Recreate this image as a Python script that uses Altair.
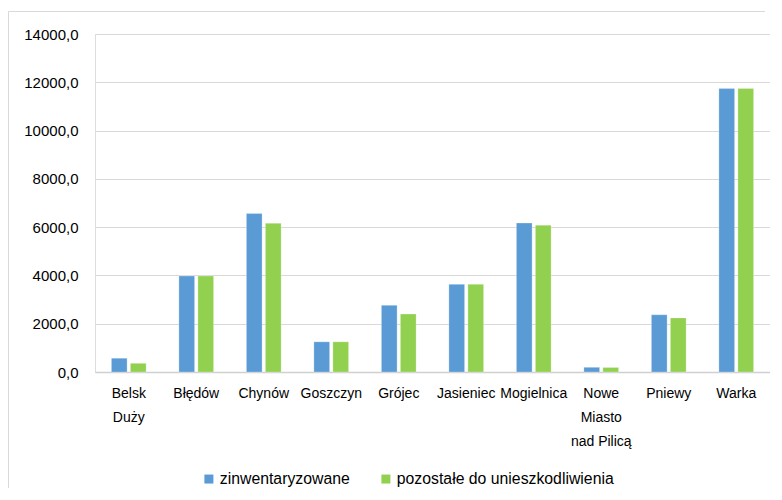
import altair as alt
import pandas as pd

categories = ["Belsk Duży", "Błędów", "Chynów", "Goszczyn", "Grójec", "Jasieniec",
              "Mogielnica", "Nowe Miasto nad Pilicą", "Pniewy", "Warka"]
inventoried = [570, 3975, 6570, 1250, 2760, 3630, 6170, 195, 2370, 11740]
remaining = [360, 3975, 6160, 1250, 2400, 3630, 6080, 190, 2240, 11740]
series = ["zinwentaryzowane", "pozostałe do unieszkodliwienia"]
colors = ["#5b9bd5", "#92d050"]
y_ticks = [0, 2000, 4000, 6000, 8000, 10000, 12000, 14000]

rows = []
for c, a, b in zip(categories, inventoried, remaining):
    rows.append({"gmina": c, "seria": series[0], "wartosc": a})
    rows.append({"gmina": c, "seria": series[1], "wartosc": b})
df = pd.DataFrame(rows)

FONT = "Liberation Sans"

label_expr = ("datum.value == 'Belsk Duży' ? ['Belsk', 'Duży'] : "
              "datum.value == 'Nowe Miasto nad Pilicą' ? ['Nowe', 'Miasto', 'nad Pilicą'] : "
              "datum.label")

bars = alt.Chart(df).mark_bar(stroke="#ffffff", strokeOpacity=0.5, strokeWidth=0.5).encode(
    x=alt.X("gmina:N", sort=categories, title=None,
            scale=alt.Scale(paddingInner=0, paddingOuter=0),
            axis=alt.Axis(labelAngle=0, labelExpr=label_expr, labelLineHeight=24,
                          labelFont=FONT, labelFontSize=14, labelColor="#000000",
                          labelPadding=14, ticks=False, domainColor="#d0d0d0",
                          domainWidth=1.5, labelLimit=200)),
    xOffset=alt.XOffset("seria:N", sort=series,
                        scale=alt.Scale(paddingInner=0.174, paddingOuter=0.863)),
    y=alt.Y("wartosc:Q", title=None,
            scale=alt.Scale(domain=[0, 14000]),
            axis=alt.Axis(values=y_ticks, labelExpr="replace(format(datum.value, '.1f'), '.', ',')",
                          labelFont=FONT, labelFontSize=15, labelColor="#000000",
                          labelPadding=17, ticks=False, domain=False,
                          gridColor="#d9d9d9", gridWidth=1)),
    color=alt.Color("seria:N", sort=series,
                    scale=alt.Scale(domain=series, range=colors),
                    legend=alt.Legend(title=None, orient="none", legendX=106, legendY=437,
                                      direction="horizontal", symbolType="square",
                                      symbolSize=81, symbolStrokeWidth=0,
                                      labelFont=FONT, labelFontSize=15.8,
                                      labelColor="#000000", labelOffset=3,
                                      labelLimit=400, columnPadding=28)),
)

one = pd.DataFrame({"f": [0]})
frame_top = alt.Chart(one).mark_rule(stroke="#d9d9d9", strokeWidth=1).encode(
    x=alt.value(-86.5), x2=alt.value(670), y=alt.value(-22.5), y2=alt.value(-22.5)
)
frame_left = alt.Chart(one).mark_rule(stroke="#d9d9d9", strokeWidth=1).encode(
    x=alt.value(-86.5), x2=alt.value(-86.5), y=alt.value(-22.5), y2=alt.value(456)
)

chart = alt.layer(frame_top, frame_left, bars).properties(
    width=675, height=338,
    padding={"left": 87, "top": 26, "right": 0, "bottom": 116},
    autosize=alt.AutoSizeParams(type="none"),
).configure_view(stroke=None).configure(background="#ffffff")

chart.save("out.html", embed_options={"renderer": "svg", "actions": False})
